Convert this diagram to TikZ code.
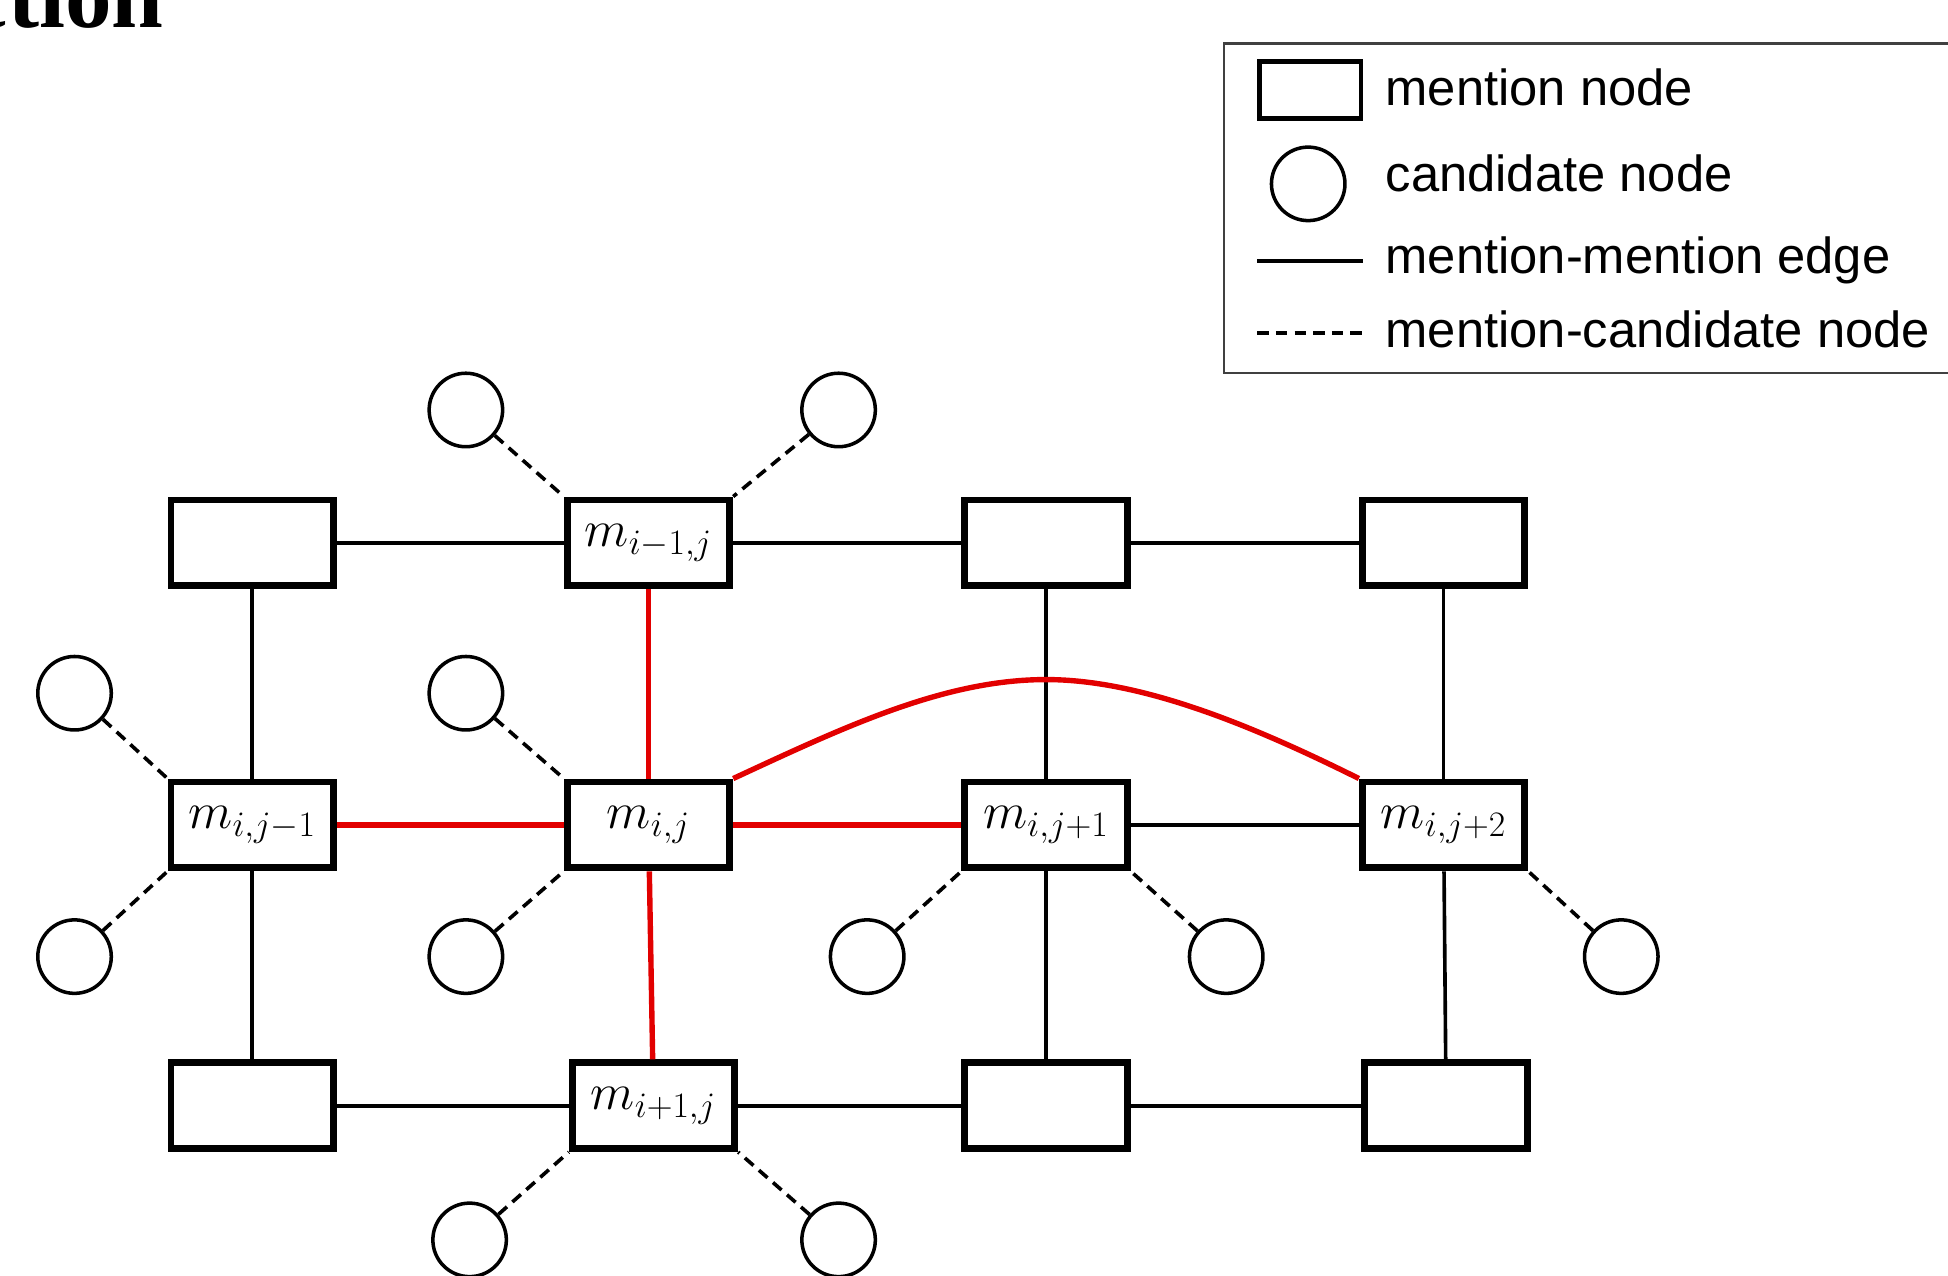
\documentclass[tikz,border=0pt]{standalone}
\usepackage{amsmath}
\usepackage{xcolor}
\usepackage{fontspec}
\newfontfamily\pGraphLegendFont{Liberation Sans}
\newfontfamily\pGraphTitleFont{Liberation Serif}
\definecolor{pGraphRed}{RGB}{226,0,0}
\newcommand{\pGraphMention}[1]{\ensuremath{m_{#1}}}
\newcommand{\pGraphKey}[1]{{\pGraphLegendFont\fontsize{24.5}{29}\selectfont #1}}

\begin{document}
\begin{tikzpicture}[x=0.6pt,y=-0.6pt,
  mention/.style={draw, fill=white, line width=3.3pt, minimum width=78.5pt, minimum height=41.5pt, inner sep=0pt, font=\fontsize{25}{30}\selectfont},
  candidate/.style={draw, circle, line width=1.7pt, minimum size=35.5pt, inner sep=0pt},
  mm/.style={line width=1.75pt},
  hot/.style={draw=pGraphRed, line width=2.6pt},
  mc/.style={line width=1.75pt, dash pattern=on 5.5pt off 3.5pt}]
\useasboundingbox (0,0) rectangle (1568,1027);
\node[anchor=base east, inner sep=0pt, font=\pGraphTitleFont\bfseries\fontsize{45}{54}\selectfont] (title) at (132,22) {ction};
\node[mention] (m11) at (203,437) {};
\node[mention] (m12) at (522,437) {\pGraphMention{i-1,j}};
\node[mention] (m13) at (842,437) {};
\node[mention] (m14) at (1162,437) {};
\node[mention] (m21) at (203,664) {\pGraphMention{i,j-1}};
\node[mention] (m22) at (522,664) {\pGraphMention{i,j}};
\node[mention] (m23) at (842,664) {\pGraphMention{i,j+1}};
\node[mention] (m24) at (1162,664) {\pGraphMention{i,j+2}};
\node[mention] (m31) at (203,890) {};
\node[mention] (m32) at (526,890) {\pGraphMention{i+1,j}};
\node[mention] (m33) at (842,890) {};
\node[mention] (m34) at (1164,890) {};
\node[candidate] (c12a) at (375,330) {};
\node[candidate] (c12b) at (675,330) {};
\node[candidate] (c21a) at (60,558) {};
\node[candidate] (c21b) at (60,770) {};
\node[candidate] (c22a) at (375,558) {};
\node[candidate] (c22b) at (375,770) {};
\node[candidate] (c23a) at (698,770) {};
\node[candidate] (c23b) at (987,770) {};
\node[candidate] (c24b) at (1305,770) {};
\node[candidate] (c32a) at (378,998) {};
\node[candidate] (c32b) at (675,998) {};
\coordinate (arcTop) at (842,547);
\draw[mm] (m11) -- (m12);
\draw[mm] (m12) -- (m13);
\draw[mm] (m13) -- (m14);
\draw[mm] (m31) -- (m32);
\draw[mm] (m32) -- (m33);
\draw[mm] (m33) -- (m34);
\draw[mm] (m23) -- (m24);
\draw[mm] (m11) -- (m21);
\draw[mm] (m21) -- (m31);
\draw[mm] (m13) -- (m23);
\draw[mm] (m23) -- (m33);
\draw[mm] (m14) -- (m24);
\draw[mm] (m24) -- (m34);
\draw[mc] (c12a) -- (m12.north west);
\draw[mc] (c12b) -- (m12.north east);
\draw[mc] (c21a) -- (m21.north west);
\draw[mc] (c21b) -- (m21.south west);
\draw[mc] (c22a) -- (m22.north west);
\draw[mc] (c22b) -- (m22.south west);
\draw[mc] (c23a) -- (m23.south west);
\draw[mc] (c23b) -- (m23.south east);
\draw[mc] (c24b) -- (m24.south east);
\draw[mc] (c32a) -- (m32.south west);
\draw[mc] (c32b) -- (m32.south east);
\draw[hot] (m12) -- (m22);
\draw[hot] (m21) -- (m22);
\draw[hot] (m22) -- (m23);
\draw[hot] (m22) -- (m32);
\draw[hot] (m22.north east) .. controls (680,585) and (760,547) .. (arcTop) .. controls (920,547) and (1010,585) .. (m24.north west);
\draw[line width=1.1pt, draw=black!75] (985,35) rectangle (1590,300);
\node[draw, line width=2.2pt, minimum width=49pt, minimum height=27.6pt, inner sep=0pt] (keyMention) at (1054.5,72.5) {};
\node[candidate] (keyCandidate) at (1053,148) {};
\draw[mm] (1012,210) -- (1097,210);
\draw[mc] (1012,268) -- (1097,268);
\node[anchor=base west, inner sep=0pt] (keyMentionText) at (1115,85) {\pGraphKey{mention node}};
\node[anchor=base west, inner sep=0pt] (keyCandidateText) at (1115,154) {\pGraphKey{candidate node}};
\node[anchor=base west, inner sep=0pt] (keyEdgeText) at (1115,220) {\pGraphKey{mention-mention edge}};
\node[anchor=base west, inner sep=0pt] (keyLinkText) at (1115,280) {\pGraphKey{mention-candidate node}};
\end{tikzpicture}
\end{document}
